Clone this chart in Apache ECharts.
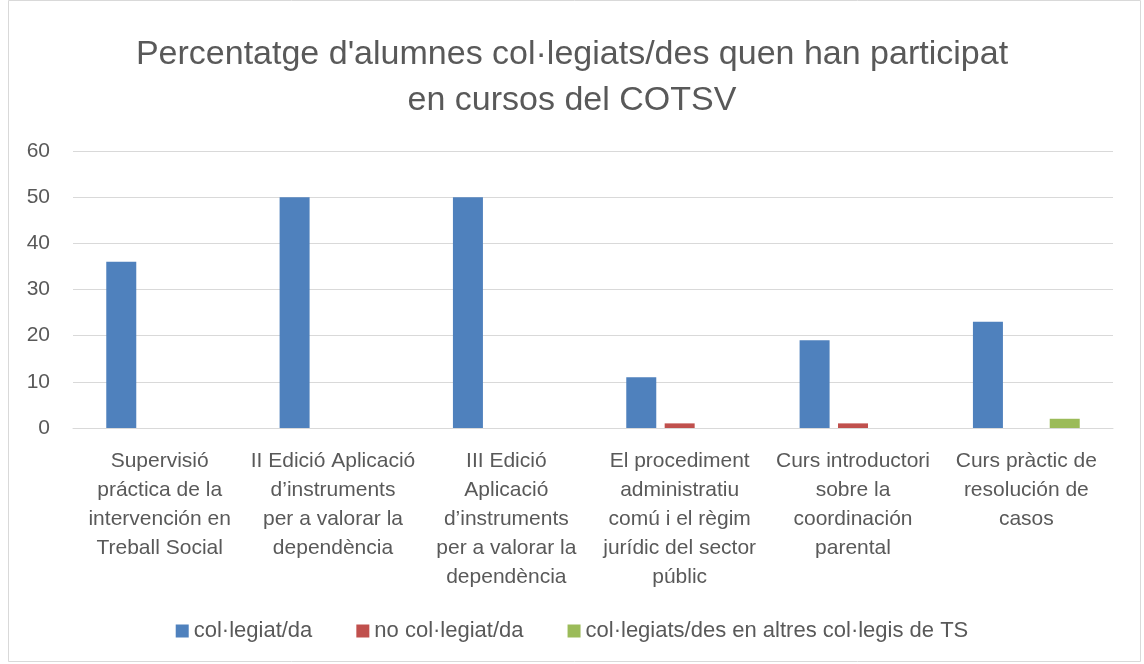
<!DOCTYPE html>
<html>
<head>
<meta charset="utf-8">
<script src="https://cdn.jsdelivr.net/npm/echarts@6/dist/echarts.min.js"></script>
<style>
  html, body { margin: 0; padding: 0; background: #fff; }
  #chart { width: 1144px; height: 664px; }
</style>
</head>
<body>
<div id="chart"></div>
<script>
  const categories = [
    'Supervisió\npráctica de la\nintervención en\nTreball Social',
    'II Edició Aplicació\nd’instruments\nper a valorar la\ndependència',
    'III Edició\nAplicació\nd’instruments\nper a valorar la\ndependència',
    'El procediment\nadministratiu\ncomú i el règim\njurídic del sector\npúblic',
    'Curs introductori\nsobre la\ncoordinación\nparental',
    'Curs pràctic de\nresolución de\ncasos'
  ];
  const collegiats = [36, 50, 50, 11, 19, 23];
  const noCollegiats = [0, 0, 0, 1, 1, 0];
  const altresCollegis = [0, 0, 0, 0, 0, 2];
  const yTicks = { min: 0, max: 60, interval: 10 };

  const font = '"Liberation Sans", Arial, sans-serif';
  const chart = echarts.init(document.getElementById('chart'));

  chart.setOption({
    animation: false,
    textStyle: { fontFamily: font },
    graphic: [{
      type: 'rect',
      shape: { x: 8.5, y: 0.5, width: 1132, height: 661 },
      style: { fill: 'none', stroke: '#d9d9d9', lineWidth: 1 },
      silent: true
    }],
    title: {
      text: "Percentatge d'alumnes col·legiats/des quen han participat\nen cursos del COTSV",
      left: 'center',
      top: 27,
      textStyle: {
        fontFamily: font,
        fontWeight: 'normal',
        fontSize: 34,
        lineHeight: 46,
        color: '#595959'
      }
    },
    legend: {
      bottom: 17,
      left: 'center',
      itemWidth: 13,
      itemHeight: 13,
      itemGap: 44,
      icon: 'rect',
      textStyle: { fontFamily: font, fontSize: 22, color: '#595959' },
      data: ['col·legiat/da', 'no col·legiat/da', 'col·legiats/des en altres col·legis de TS']
    },
    grid: { left: 73, right: 31, top: 151, bottom: 236 },
    xAxis: {
      type: 'category',
      data: categories,
      axisTick: { show: false },
      axisLine: { lineStyle: { color: '#d9d9d9', width: 1 } },
      axisLabel: {
        interval: 0,
        margin: 19,
        fontSize: 21,
        lineHeight: 29,
        color: '#595959',
        fontFamily: font
      }
    },
    yAxis: {
      type: 'value',
      min: yTicks.min,
      max: yTicks.max,
      interval: yTicks.interval,
      axisLine: { show: false },
      axisTick: { show: false },
      splitLine: { lineStyle: { color: '#d9d9d9', width: 1 } },
      axisLabel: { margin: 23, fontSize: 21, color: '#595959', fontFamily: font }
    },
    series: [
      {
        name: 'col·legiat/da',
        type: 'bar',
        barWidth: 30,
        barGap: '28%',
        itemStyle: { color: '#4f81bd' },
        data: collegiats
      },
      {
        name: 'no col·legiat/da',
        type: 'bar',
        barWidth: 30,
        barGap: '28%',
        itemStyle: { color: '#c0504d' },
        data: noCollegiats
      },
      {
        name: 'col·legiats/des en altres col·legis de TS',
        type: 'bar',
        barWidth: 30,
        barGap: '28%',
        itemStyle: { color: '#9bbb59' },
        data: altresCollegis
      }
    ]
  });
</script>
</body>
</html>
